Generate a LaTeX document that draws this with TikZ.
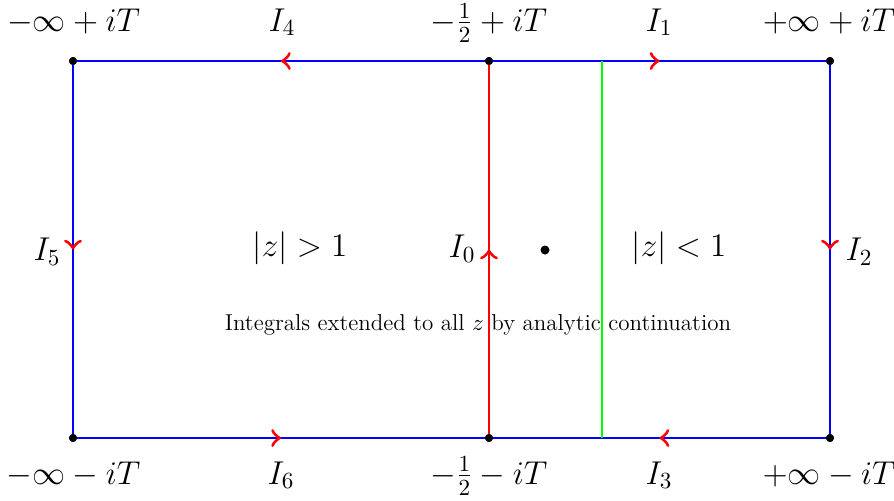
\RequirePackage{fix-cm}
\documentclass[tikz,border=0pt]{standalone}
\usetikzlibrary{decorations.markings}
\begin{document}
\begin{tikzpicture}[x=0.5pt,y=-0.5pt,
  seg/.style={line width=1pt,postaction={decorate},decoration={markings,mark=at position 0.5 with {\arrow[red,line width=0.9pt,scale=1.75]{to}}}},
  dotpt/.style={circle,fill=black,inner sep=0pt,minimum size=4pt},
  lbl/.style={font=\fontsize{16.5}{19.8}\selectfont,inner sep=1pt},
  bl/.style={lbl,anchor=base},
  note/.style={font=\fontsize{11.5}{13.8}\selectfont}]
\useasboundingbox (0,0) rectangle (894,500);
\node[dotpt] (TL) at (73,61) {};
\node[dotpt] (TM) at (489,61) {};
\node[dotpt] (TR) at (830,61) {};
\node[dotpt] (BL) at (73,438) {};
\node[dotpt] (BM) at (489,438) {};
\node[dotpt] (BR) at (830,438) {};
\node[dotpt,minimum size=4.5pt] (C) at (545,250) {};
\coordinate (GT) at (602,61);
\coordinate (GB) at (602,438);
\node[note] (txt) at (478,325) {Integrals extended to all $z$ by analytic continuation};
\draw[seg,blue] (TM.center) -- (TL.center);
\draw[seg,blue] (TM.center) -- (TR.center);
\draw[seg,blue] (TR.center) -- (BR.center);
\draw[seg,blue] (BR.center) -- (BM.center);
\draw[seg,blue] (BL.center) -- (BM.center);
\draw[seg,blue] (TL.center) -- (BL.center);
\draw[seg,red] (BM.center) -- (TM.center);
\draw[green,line width=1pt] (GT) -- (GB);
\foreach \n in {TL,TM,TR,BL,BM,BR} \fill (\n) circle (2pt);
\node[bl] (lTL) at (73.5,31) {$-\infty+iT$};
\node[bl] (lTM) at (489,31) {$-\frac{1}{2}+iT$};
\node[bl] (lTR) at (829,31) {$+\infty+iT$};
\node[bl] (lBL) at (73.5,484) {$-\infty-iT$};
\node[bl] (lBM) at (489,484) {$-\frac{1}{2}-iT$};
\node[bl] (lBR) at (829,484) {$+\infty-iT$};
\node[bl] (I4) at (282,31) {$I_4$};
\node[bl] (I1) at (659,31) {$I_1$};
\node[bl] (I6) at (281,484) {$I_6$};
\node[bl] (I3) at (659,484) {$I_3$};
\node[lbl] (I5) at (47,252) {$I_5$};
\node[lbl] (I2) at (859,252) {$I_2$};
\node[lbl] (I0) at (462,249) {$I_0$};
\node[lbl] (zg) at (300,248) {$|z|>1$};
\node[lbl] (zl) at (679,248) {$|z|<1$};
\end{tikzpicture}
\end{document}
